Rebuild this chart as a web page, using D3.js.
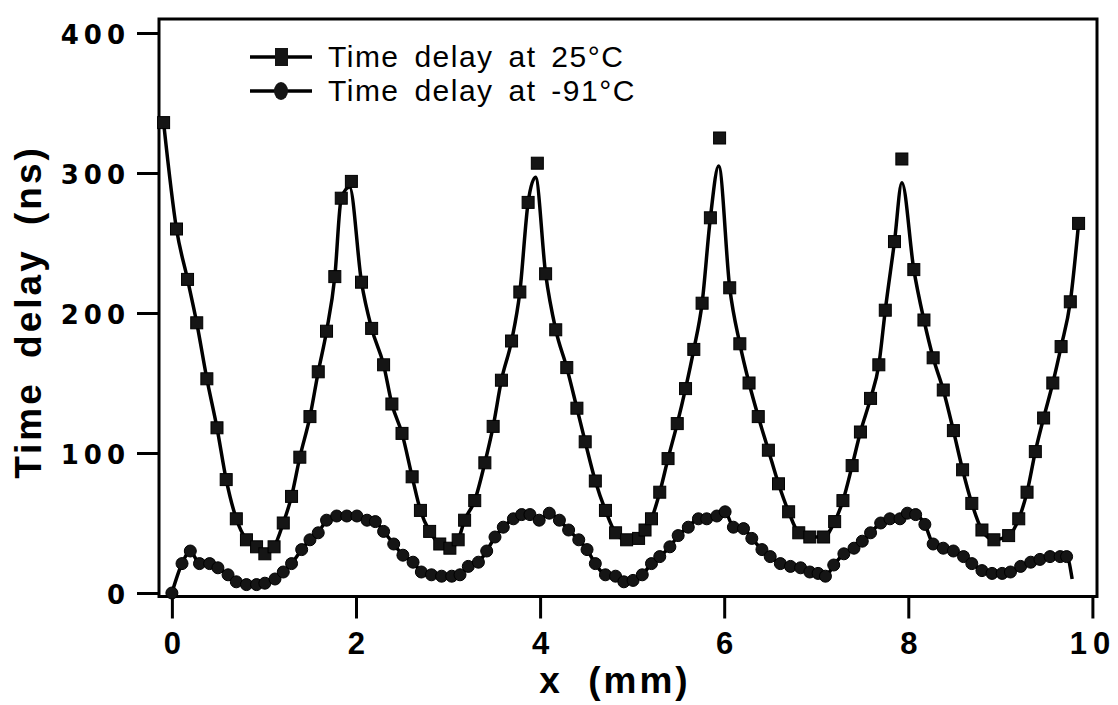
<!DOCTYPE html>
<html>
<head>
<meta charset="utf-8">
<script src="https://cdn.jsdelivr.net/npm/d3@7"></script>
<style>
  body { margin: 0; background: #fff; }
  text { fill: #000; }
</style>
</head>
<body>
<svg id="chart" width="1118" height="705"></svg>
<script>
// values: [x (mm), time delay (ns)]
const warm = [
  [-0.09, 336], [0.05, 260], [0.17, 224], [0.27, 193], [0.38, 153], [0.49, 118],
  [0.59, 81], [0.70, 53], [0.81, 38], [0.92, 33], [1.01, 28], [1.11, 33],
  [1.21, 50], [1.30, 69], [1.39, 97], [1.50, 126], [1.59, 158], [1.68, 187],
  [1.77, 226], [1.84, 282], [2.06, 222], [2.17, 189], [2.30, 163], [2.39, 135],
  [2.50, 114], [2.61, 83], [2.70, 59], [2.80, 44], [2.91, 35], [3.02, 32],
  [3.11, 38], [3.18, 52], [3.29, 66], [3.40, 93], [3.49, 119], [3.58, 152],
  [3.69, 180], [3.78, 215], [3.87, 279], [4.06, 228], [4.17, 188], [4.29, 161],
  [4.40, 132], [4.49, 108], [4.60, 80], [4.71, 59], [4.82, 43], [4.94, 38],
  [5.07, 39], [5.14, 45], [5.21, 53], [5.30, 72], [5.39, 96], [5.49, 121],
  [5.58, 146], [5.67, 174], [5.76, 207], [5.85, 268], [6.06, 218], [6.17, 178],
  [6.27, 150], [6.37, 126], [6.48, 102], [6.59, 78], [6.70, 58], [6.81, 43],
  [6.93, 40], [7.08, 40], [7.20, 51], [7.29, 66], [7.39, 91], [7.48, 115],
  [7.59, 139], [7.68, 163], [7.75, 202], [7.85, 251], [8.06, 231], [8.17, 195],
  [8.27, 168], [8.38, 145], [8.49, 116], [8.59, 88], [8.69, 64], [8.80, 45],
  [8.93, 38], [9.09, 41], [9.20, 53], [9.29, 72], [9.38, 101], [9.47, 125],
  [9.57, 150], [9.66, 176], [9.76, 208], [9.85, 264]
];
// apex of the 25°C curve (line only, no marker)
const warmTips = [[1.93, 290], [3.95, 297], [5.94, 305], [7.93, 293]];
// lone squares plotted just above each apex
const warmPeaks = [[1.95, 294], [3.97, 307], [5.95, 325], [7.93, 310]];

const cold = [
  [0.00, 0], [0.11, 21], [0.20, 30], [0.30, 21], [0.41, 21], [0.50, 18],
  [0.61, 13], [0.70, 8], [0.81, 6], [0.92, 6], [1.01, 7], [1.12, 10],
  [1.21, 15], [1.30, 21], [1.41, 31], [1.50, 38], [1.59, 43], [1.68, 52],
  [1.79, 55], [1.90, 55], [2.01, 55], [2.12, 52], [2.21, 51], [2.30, 44],
  [2.41, 35], [2.51, 27], [2.62, 22], [2.71, 15], [2.82, 13], [2.93, 12],
  [3.04, 12], [3.13, 13], [3.22, 19], [3.33, 22], [3.42, 30], [3.51, 40],
  [3.60, 47], [3.71, 53], [3.80, 56], [3.89, 56], [3.99, 52], [4.10, 57],
  [4.21, 52], [4.31, 45], [4.42, 38], [4.51, 31], [4.60, 21], [4.71, 13],
  [4.82, 12], [4.91, 8], [5.01, 9], [5.11, 13], [5.21, 21], [5.30, 26],
  [5.41, 33], [5.50, 41], [5.61, 47], [5.72, 53], [5.81, 53], [5.92, 55],
  [6.01, 58], [6.10, 47], [6.21, 46], [6.30, 39], [6.41, 31], [6.50, 26],
  [6.61, 21], [6.72, 19], [6.83, 18], [6.93, 15], [7.02, 14], [7.10, 12],
  [7.19, 20], [7.30, 28], [7.41, 32], [7.50, 37], [7.59, 43], [7.70, 50],
  [7.80, 53], [7.91, 53], [7.99, 57], [8.08, 56], [8.18, 49], [8.27, 35],
  [8.38, 32], [8.49, 30], [8.60, 26], [8.69, 21], [8.80, 16], [8.91, 14],
  [9.02, 14], [9.11, 15], [9.22, 19], [9.33, 22], [9.43, 24], [9.54, 26],
  [9.65, 26], [9.72, 26]
];
// where the -91°C line stops (no marker)
const coldEnd = [[9.78, 10]];

const xTicks = [0, 2, 4, 6, 8, 10];
const yTicks = [0, 100, 200, 300, 400];
const legendLabels = ["Time delay at 25\u00b0C", "Time delay at -91\u00b0C"];

const svg = d3.select("#chart");

const x = d3.scaleLinear().domain([-0.14, 10.05]).range([159, 1097]);
const y = d3.scaleLinear().domain([-2.5, 410]).range([596.5, 19]);

const line = d3.line()
  .x(d => x(d[0]))
  .y(d => y(d[1]))
  .curve(d3.curveMonotoneX);

// axes
let yAxis = d3.axisLeft(y).tickValues(yTicks).tickSize(21).tickPadding(7).tickSizeOuter(0);
svg.append("g")
  .attr("transform", `translate(${x.range()[0] - 1},0)`)
  .call(yAxis)
  .call(g => g.select(".domain").remove())
  .call(g => g.selectAll("line").attr("stroke", "#000").attr("stroke-width", 3))
  .call(g => g.selectAll("text")
    .attr("font-family", "DejaVu Sans")
    .attr("font-weight", "bold")
    .attr("font-size", 26)
    .attr("letter-spacing", "5px")
    .attr("dy", "0.4em"));

let xAxis = d3.axisBottom(x).tickValues(xTicks).tickSize(22).tickPadding(13).tickSizeOuter(0);
svg.append("g")
  .attr("transform", `translate(0,${y.range()[0]})`)
  .call(xAxis)
  .call(g => g.select(".domain").remove())
  .call(g => g.selectAll("line").attr("stroke", "#000").attr("stroke-width", 3))
  .call(g => g.selectAll("text")
    .attr("font-family", "Liberation Sans")
    .attr("font-weight", "bold")
    .attr("font-size", 31)
    .attr("letter-spacing", d => d === 10 ? "6px" : "0px"));

// plot frame
svg.append("rect")
  .attr("x", x.range()[0])
  .attr("y", y.range()[1])
  .attr("width", x.range()[1] - x.range()[0])
  .attr("height", y.range()[0] - y.range()[1])
  .attr("fill", "none")
  .attr("stroke", "#000")
  .attr("stroke-width", 3);

// curves
let warmLine = warm.concat(warmTips).sort((a, b) => a[0] - b[0]);
let coldLine = cold.concat(coldEnd);

svg.append("path")
  .datum(warmLine)
  .attr("d", line)
  .attr("fill", "none")
  .attr("stroke", "#000")
  .attr("stroke-width", 3.5);

svg.append("path")
  .datum(coldLine)
  .attr("d", line)
  .attr("fill", "none")
  .attr("stroke", "#000")
  .attr("stroke-width", 3.5);

// markers
svg.selectAll(".sq")
  .data(warm.concat(warmPeaks))
  .enter()
  .append("rect")
  .classed("sq", true)
  .attr("x", d => x(d[0]) - 6)
  .attr("y", d => y(d[1]) - 6)
  .attr("width", 12)
  .attr("height", 12)
  .attr("fill", "#151515")
  .attr("stroke", "#000")
  .attr("stroke-width", 1);

svg.selectAll(".dot")
  .data(cold)
  .enter()
  .append("circle")
  .classed("dot", true)
  .attr("cx", d => x(d[0]))
  .attr("cy", d => y(d[1]))
  .attr("r", 6)
  .attr("fill", "#151515")
  .attr("stroke", "#000")
  .attr("stroke-width", 1);

// legend
let legend = svg.append("g");
legendLabels.forEach((label, i) => {
  let ly = 57 + i * 34;
  legend.append("line")
    .attr("x1", 250).attr("x2", 312)
    .attr("y1", ly).attr("y2", ly)
    .attr("stroke", "#000").attr("stroke-width", 3.5);
  if (i === 0) {
    legend.append("rect")
      .attr("x", 275).attr("y", ly - 9)
      .attr("width", 13).attr("height", 18)
      .attr("fill", "#151515");
  } else {
    legend.append("ellipse")
      .attr("cx", 281).attr("cy", ly)
      .attr("rx", 7).attr("ry", 9)
      .attr("fill", "#151515");
  }
  legend.append("text")
    .attr("x", 328)
    .attr("y", ly + 10)
    .attr("font-family", "Liberation Sans")
    .attr("font-size", 30)
    .attr("letter-spacing", "1.5px")
    .attr("word-spacing", "5px")
    .text(label);
});

// axis titles
svg.append("text")
  .attr("transform", "translate(41,312) rotate(-90)")
  .attr("text-anchor", "middle")
  .attr("font-family", "Liberation Sans")
  .attr("font-weight", "bold")
  .attr("font-size", 37)
  .attr("letter-spacing", "3px")
  .attr("word-spacing", "10px")
  .text("Time delay (ns)");

svg.append("text")
  .attr("x", 615)
  .attr("y", 693)
  .attr("text-anchor", "middle")
  .attr("font-family", "Liberation Sans")
  .attr("font-weight", "bold")
  .attr("font-size", 37)
  .attr("letter-spacing", "3px")
  .attr("word-spacing", "12px")
  .text("x (mm)");
</script>
</body>
</html>
